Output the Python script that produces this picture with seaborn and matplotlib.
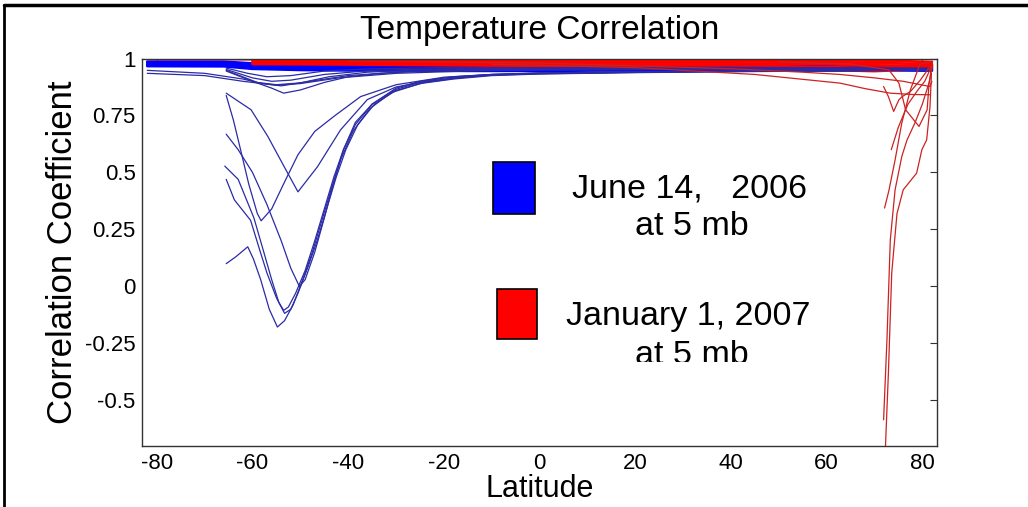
import numpy as np
import pandas as pd
import matplotlib
matplotlib.use("Agg")
import matplotlib.pyplot as plt
import seaborn as sns
from matplotlib.patches import Rectangle
from matplotlib.lines import Line2D
from matplotlib.transforms import Bbox, TransformedBbox

# ---- data ----
# latitude grid shared by the near-flat lines
lat_grid = [-82, -66, -60, -50, -40, -30, -15, 0, 15, 30, 45, 60, 70, 76, 82]
lat_grid_red = lat_grid[2:]

# June 14, 2006 - near-flat lines over the whole latitude range
blue_flat = [
    [0.986, 0.986, 0.978, 0.975, 0.973, 0.972, 0.970, 0.968, 0.967, 0.968, 0.970, 0.968, 0.966, 0.965, 0.963],
    [0.980, 0.979, 0.970, 0.966, 0.964, 0.963, 0.962, 0.960, 0.960, 0.962, 0.963, 0.961, 0.960, 0.958, 0.957],
    [0.973, 0.972, 0.962, 0.957, 0.956, 0.955, 0.953, 0.952, 0.953, 0.955, 0.957, 0.955, 0.954, 0.953, 0.952],
    [0.967, 0.966, 0.955, 0.950, 0.948, 0.948, 0.946, 0.946, 0.948, 0.950, 0.952, 0.950, 0.950, 0.948, 0.947],
]

# June 14, 2006 - curves that dip south of -40
blue_dip_lats = [
    [-65.5, -60.3, -56.8, -53.4, -50.5, -46.4, -41.6, -36, -30, -20, -10, 0, 20, 40, 60, 82],
    [-65.5, -64, -62.5, -60.8, -59, -58.2, -56, -53.5, -50.5, -47, -43, -37.4, -30, -20, -10, 0, 20, 40, 60, 82],
    [-65.5, -63, -60, -57, -54, -52, -50.2, -49, -47, -45, -43, -41, -38.5, -35, -30, -25, -18, -10, 0, 20, 40, 60, 82],
    [-65.8, -63, -59.7, -57.5, -56, -54.5, -53.5, -52.5, -51, -49, -47, -45, -43, -41, -38.5, -35, -30, -25, -18, -10, 0, 20, 40, 60, 82],
    [-65.5, -63.8, -60.4, -58.5, -57, -55, -53.3, -52, -50.5, -48.5, -46.5, -44.5, -42.5, -40.5, -38, -34.5, -30, -24, -17, -10, 0, 20, 40, 60, 82],
    [-65.5, -63.5, -61, -59.8, -58.3, -56.5, -54.8, -53.3, -51.5, -49.5, -47.5, -45.5, -43.5, -41.5, -39, -35.5, -31, -25, -18, -10, 0, 20, 40, 60, 82],
    [-65.5, -61, -57, -52, -45, -35, -20, 0, 30, 60, 82],
    [-65.5, -60, -56, -52, -45, -35, -20, 0, 30, 60, 82],
    [-65.5, -59, -55, -50, -44, -36, -25, 0, 30, 60, 82],
    [-65.5, -60, -56, -53.5, -50, -45, -40, -33, -25, 0, 30, 60, 82],
    [-82, -70, -62, -58, -54, -48, -40, -30, -15, 0, 30, 60, 82],
    [-82, -70, -62, -55, -50, -42, -30, -15, 0, 30, 60, 82],
]
blue_dip_vals = [
    [0.848, 0.775, 0.658, 0.526, 0.415, 0.526, 0.687, 0.82, 0.875, 0.915, 0.93, 0.937, 0.942, 0.946, 0.948, 0.95],
    [0.838, 0.73, 0.6, 0.45, 0.32, 0.288, 0.34, 0.45, 0.578, 0.68, 0.746, 0.833, 0.885, 0.918, 0.93, 0.936, 0.941, 0.945, 0.947, 0.95],
    [0.668, 0.6, 0.5, 0.36, 0.2, 0.08, 0.0, 0.03, 0.15, 0.3, 0.46, 0.6, 0.72, 0.8, 0.87, 0.9, 0.92, 0.93, 0.935, 0.94, 0.944, 0.946, 0.95],
    [0.528, 0.47, 0.3, 0.14, 0.03, -0.07, -0.105, -0.09, -0.03, 0.07, 0.2, 0.34, 0.48, 0.6, 0.71, 0.8, 0.865, 0.895, 0.915, 0.928, 0.934, 0.94, 0.944, 0.946, 0.95],
    [0.47, 0.38, 0.29, 0.16, 0.06, -0.05, -0.118, -0.1, -0.03, 0.08, 0.2, 0.34, 0.48, 0.6, 0.71, 0.8, 0.86, 0.895, 0.915, 0.927, 0.933, 0.939, 0.943, 0.946, 0.95],
    [0.1, 0.13, 0.174, 0.12, 0.03, -0.1, -0.178, -0.15, -0.08, 0.03, 0.15, 0.29, 0.43, 0.56, 0.68, 0.78, 0.85, 0.89, 0.91, 0.925, 0.932, 0.938, 0.942, 0.945, 0.95],
    [0.958, 0.935, 0.92, 0.925, 0.945, 0.955, 0.96, 0.96, 0.962, 0.96, 0.958],
    [0.952, 0.915, 0.9, 0.905, 0.93, 0.948, 0.955, 0.957, 0.958, 0.957, 0.955],
    [0.948, 0.895, 0.885, 0.893, 0.92, 0.94, 0.95, 0.954, 0.956, 0.955, 0.953],
    [0.945, 0.9, 0.87, 0.848, 0.862, 0.895, 0.92, 0.935, 0.945, 0.95, 0.952, 0.952, 0.95],
    [0.948, 0.935, 0.91, 0.89, 0.88, 0.9, 0.925, 0.94, 0.95, 0.953, 0.955, 0.955, 0.955],
    [0.935, 0.925, 0.9, 0.883, 0.89, 0.915, 0.935, 0.945, 0.95, 0.952, 0.953, 0.952],
]

# January 1, 2007 - near-flat lines
red_top = [0.998, 0.998, 0.997, 0.997, 0.997, 0.996, 0.996, 0.996, 0.996, 0.996, 0.995, 0.994, 0.990, 0.988, 0.985]
red_flat = [
    [0.993, 0.992, 0.992, 0.991, 0.990, 0.990, 0.989, 0.988, 0.987, 0.985, 0.980, 0.978, 0.975],
    [0.988, 0.987, 0.986, 0.985, 0.984, 0.983, 0.982, 0.980, 0.978, 0.975, 0.970, 0.968, 0.970],
    [0.982, 0.981, 0.980, 0.978, 0.976, 0.975, 0.974, 0.972, 0.968, 0.962, 0.958, 0.960, 0.968],
    [0.976, 0.975, 0.974, 0.972, 0.970, 0.968, 0.966, 0.963, 0.958, 0.950, 0.945, 0.950, 0.960],
]

# January 1, 2007 - curves falling off near the north pole
red_dip_lats = [
    [-10, 20, 45, 62.8, 68, 73.3, 78, 81.6],
    [-40, 0, 40, 55, 62.8, 70, 76, 81.6, 82],
    [72.1, 73, 74.3, 75.7, 77.5, 79.5, 82],
    [71.9, 72.6, 73.3, 74.3, 75.7, 76.8, 78.5, 80, 81.5, 82],
    [72.2, 72.9, 73.6, 74.7, 76, 78.8, 79.9, 80.9, 81.6, 81.9],
    [50, 65, 70, 73, 75.1, 76.5, 79.3, 81, 81.4, 82],
    [71.9, 72.9, 74, 75.1, 75.8, 77.5, 79.6, 81.6],
    [73.5, 75, 77, 79, 80.5, 82],
]
red_dip_vals = [
    [0.975, 0.96, 0.93, 0.892, 0.868, 0.848, 0.842, 0.841],
    [0.99, 0.98, 0.955, 0.94, 0.93, 0.915, 0.9, 0.877, 0.9],
    [0.344, 0.42, 0.555, 0.717, 0.863, 0.975, 0.985],
    [-0.585, -0.234, 0.205, 0.424, 0.57, 0.643, 0.72, 0.8, 0.9, 0.96],
    [-0.75, -0.38, 0.06, 0.32, 0.424, 0.497, 0.6, 0.643, 0.79, 0.935],
    [0.985, 0.975, 0.96, 0.95, 0.892, 0.775, 0.702, 0.775, 0.892, 0.97],
    [0.877, 0.833, 0.768, 0.819, 0.833, 0.855, 0.906, 0.965],
    [0.6, 0.7, 0.8, 0.86, 0.9, 0.97],
]

x_ticks = [-80, -60, -40, -20, 0, 20, 40, 60, 80]
y_ticks = [-0.5, -0.25, 0, 0.25, 0.5, 0.75, 1]
y_tick_labels = ["-0.5", "-0.25", "0", "0.25", "0.5", "0.75", "1"]


def to_long(lat_lists, val_lists, name):
    rows = []
    for i, (lats, vals) in enumerate(zip(lat_lists, val_lists)):
        for la, v in zip(lats, vals):
            rows.append({"lat": la, "corr": v, "curve": f"{name}{i}"})
    return pd.DataFrame(rows)


df_blue_flat = to_long([lat_grid] * len(blue_flat), blue_flat, "bf")
df_blue_dip = to_long(blue_dip_lats, blue_dip_vals, "bd")
df_red_flat = to_long([lat_grid] + [lat_grid_red] * len(red_flat), [red_top] + red_flat, "rf")
df_red_dip = to_long(red_dip_lats, red_dip_vals, "rd")

sns.set_style("white")
plt.rcParams["font.family"] = ["Liberation Sans", "DejaVu Sans"]
plt.rcParams["text.color"] = "black"
plt.rcParams["axes.labelcolor"] = "black"
plt.rcParams["xtick.color"] = "black"
plt.rcParams["ytick.color"] = "black"

fig = plt.figure(figsize=(10.28, 5.07), dpi=100)
ax = fig.add_axes([0.1386, 0.1203, 0.7726, 0.7643])

common = dict(x="lat", y="corr", units="curve", estimator=None, sort=False, legend=False, ax=ax)
sns.lineplot(data=df_blue_flat, color="#0000ff", linewidth=2.0, **common)
sns.lineplot(data=df_red_flat, color="#ff0000", linewidth=2.0, **common)
sns.lineplot(data=df_blue_dip, color="#2b2ba6", linewidth=0.9, **common)
sns.lineplot(data=df_red_dip, color="#cc2222", linewidth=0.9, **common)

ax.set_xlim(-83, 83)
ax.set_ylim(-0.7, 1.0)
ax.set_xticks(x_ticks)
ax.set_xticklabels([str(t) for t in x_ticks])
ax.set_yticks(y_ticks)
ax.set_yticklabels(y_tick_labels)
ax.tick_params(direction="in", length=5, width=0.8, color="#333333",
               top=True, right=True, labelsize=16, pad=5, labelcolor="black")
for s in ax.spines.values():
    s.set_visible(True)
    s.set_color("#333333")
    s.set_linewidth(1.0)

ax.set_xlabel("Latitude", fontsize=22, labelpad=0)
ax.set_ylabel("Correlation Coefficient", fontsize=25, labelpad=4)
fig.text(0.5248, 0.923, "Temperature Correlation", fontsize=24, ha="center", va="baseline")

# legend boxes drawn as figure patches
fig.add_artist(Rectangle((0.4796, 0.5779), 0.0409, 0.1026, transform=fig.transFigure,
                         facecolor="#0000ff", edgecolor="black", linewidth=1.2))
fig.add_artist(Rectangle((0.4835, 0.3314), 0.0389, 0.0986, transform=fig.transFigure,
                         facecolor="#ff0000", edgecolor="black", linewidth=1.2))
fig.text(0.6712, 0.6114, "June 14,   2006", fontsize=24.5, ha="center", va="baseline")
fig.text(0.6732, 0.5365, "at 5 mb", fontsize=24.5, ha="center", va="baseline")
fig.text(0.6693, 0.3590, "January 1, 2007", fontsize=24.5, ha="center", va="baseline")
t = fig.text(0.6730, 0.2821, "at 5 mb", fontsize=24.5, ha="center", va="baseline")
t.set_clip_on(True)
t.set_clip_box(TransformedBbox(Bbox([[0, 145.5 / 507], [1, 1]]), fig.transFigure))

# frame around the image (left and top edges)
fig.add_artist(Line2D([4 / 1028, 4 / 1028], [0, 1 - 5 / 507], transform=fig.transFigure,
                      color="black", linewidth=2))
fig.add_artist(Line2D([4 / 1028, 1], [1 - 5 / 507, 1 - 5 / 507], transform=fig.transFigure,
                      color="black", linewidth=2.5))

fig.savefig("out.png", dpi=100)
